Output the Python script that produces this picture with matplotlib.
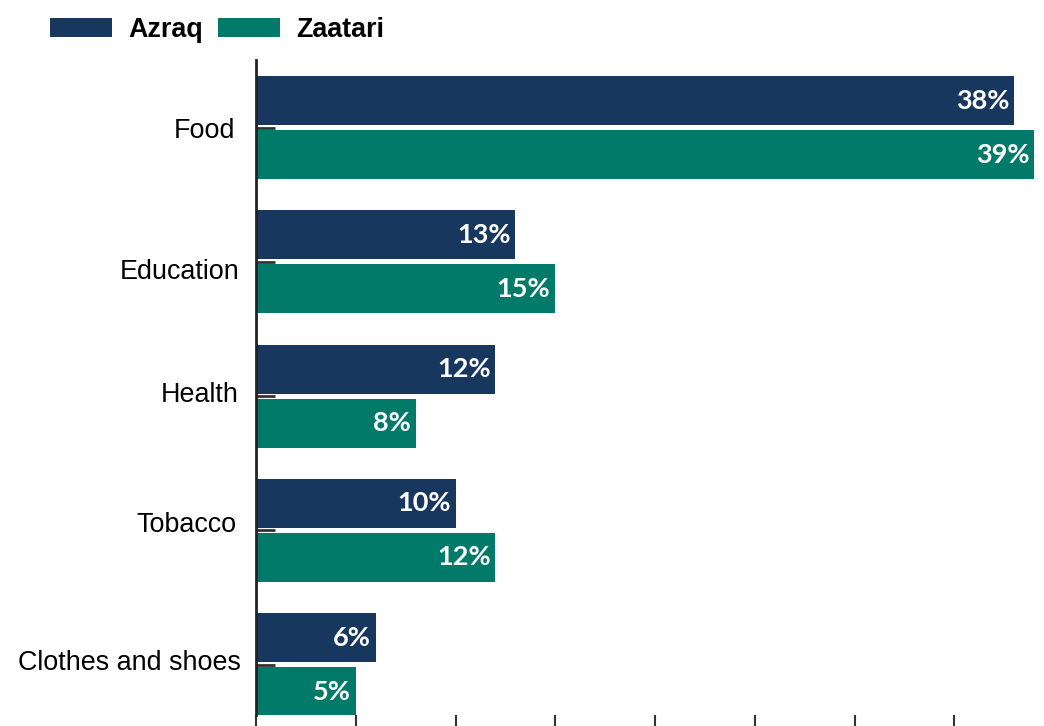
import matplotlib.pyplot as plt
import matplotlib.transforms as mtransforms
import numpy as np

categories = ['Food', 'Education', 'Health', 'Tobacco', 'Clothes and shoes']
azraq = [38, 13, 12, 10, 6]
zaatari = [39, 15, 8, 12, 5]
series_names = ['Azraq', 'Zaatari']
colors = ['#18375E', '#027A69']

# small nudges (px) of the category labels, as seen in the original
label_dx = [-5, -1, -2, -4, 0]
label_dy = [0, -7, 4, 8, 5]

fig = plt.figure(figsize=(10.44, 7.26), dpi=100)
ax = fig.add_axes([256 / 1044, 11 / 726, 798 / 1044, 655 / 726])

y = np.arange(len(categories))
off = 0.201
h = 0.365
bars_a = ax.barh(y - off, azraq, height=h, color=colors[0], label=series_names[0])
bars_z = ax.barh(y + off, zaatari, height=h, color=colors[1], label=series_names[1])

# value labels inside bar ends
for bars, vals in [(bars_a, azraq), (bars_z, zaatari)]:
    for b, v in zip(bars, vals):
        ax.annotate('{}%'.format(v), xy=(b.get_width(), b.get_y() + b.get_height() / 2),
                    xytext=(-3.5, 0), textcoords='offset points', ha='right', va='center',
                    color='white', fontsize=19.5, fontweight='bold', family='Lato')

ax.set_xlim(0, 40)
ax.set_ylim(4.376, -0.503)
ax.set_xticks(np.arange(0, 41, 5))
ax.set_xticklabels([])
ax.set_yticks(y)
ax.set_yticklabels(categories, family='Liberation Sans', fontsize=19.4)
ax.tick_params(axis='y', direction='in', length=14, width=2, color='#333333', pad=11)
ax.tick_params(axis='x', direction='out', length=12, width=1.5, color='#333333')
ax.set_axisbelow(True)

for lbl, dx, dy in zip(ax.get_yticklabels(), label_dx, label_dy):
    shift = mtransforms.ScaledTranslation(dx / 100, dy / 100, fig.dpi_scale_trans)
    lbl.set_transform(lbl.get_transform() + shift)

for s in ['top', 'right', 'bottom']:
    ax.spines[s].set_visible(False)
ax.spines['left'].set_linewidth(2)
ax.spines['left'].set_color('#222222')

fig.legend(loc='center left', bbox_to_anchor=(50 / 1044, 1 - 30 / 726), ncol=2, frameon=False,
           prop={'family': 'Liberation Sans', 'weight': 'bold', 'size': 19.4},
           handlelength=2.3, handleheight=0.67, handletextpad=0.6, columnspacing=0.56,
           borderaxespad=0, borderpad=0)

fig.savefig('out.png', dpi=100)
